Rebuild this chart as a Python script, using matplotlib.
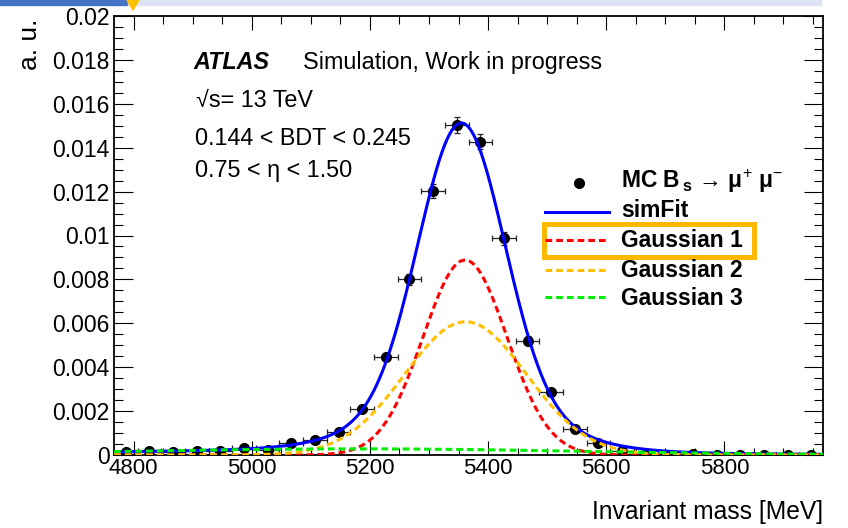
"""
Bs -> mu mu invariant-mass fit, one BDT / eta category.
MC points with the simultaneous-fit curve and its three Gaussian pieces.
"""

import numpy as np
import matplotlib
matplotlib.use("Agg")
import matplotlib.pyplot as plt
import matplotlib.ticker as mticker
from matplotlib.lines import Line2D
from matplotlib.patches import Rectangle, Polygon

# ---------------------------------------------------------------------------
# Data
# ---------------------------------------------------------------------------
M_BS = 5366.9
MASS_LO, MASS_HI = M_BS - 600.0, M_BS + 600.0
BIN_WIDTH = 40.0

# normalised MC yield per 40 MeV bin
mc_yield = [
    0.00015, 0.00020, 0.00015, 0.00020, 0.00018, 0.00030, 0.00023, 0.00053,
    0.00068, 0.00103, 0.00210, 0.00446, 0.00800, 0.01204, 0.01503, 0.01427,
    0.00987, 0.00520, 0.00286, 0.00118, 0.00053, 0.00020, 0.00005, 0.00001,
    0.00006, 0.00002, 0.00002, 0.00002, 0.00002, 0.00002,
]
mc_err = [
    0.00004, 0.00004, 0.00004, 0.00004, 0.00004, 0.00005, 0.00004, 0.00007,
    0.00008, 0.00009, 0.00013, 0.00019, 0.00026, 0.00032, 0.00036, 0.00035,
    0.00029, 0.00021, 0.00016, 0.00010, 0.00007, 0.00004, 0.00002, 0.00001,
    0.00002, 0.00001, 0.00001, 0.00001, 0.00001, 0.00001,
]

# simFit shape: (amplitude, mean, sigma) for each term
simfit_terms = [
    (0.01280, 5355.0, 72.0),
    (0.00210, 5355.0, 135.0),
    (0.00025, 5180.0, 380.0),
]
# fitted components
gauss1 = (0.00888, 5361.0, 71.0)
gauss2 = (0.00607, 5362.0, 103.0)
gauss3 = (0.00028, 5180.0, 380.0)

legend_labels = ["simFit", "Gaussian 1", "Gaussian 2", "Gaussian 3"]
legend_colors = ["#0000ff", "#ff0000", "#ffc000", "#00ee00"]

W, H = 848, 528


def fx(px):
    return px / W


def fy(py):
    return 1 - py / H


def gauss(x, amp, mean, sigma):
    return amp * np.exp(-0.5 * ((x - mean) / sigma) ** 2)


def main():
    plt.rcParams["font.family"] = ["Liberation Sans", "DejaVu Sans"]
    plt.rcParams["mathtext.fontset"] = "custom"
    plt.rcParams["mathtext.rm"] = "Liberation Sans"
    plt.rcParams["mathtext.bf"] = "Liberation Sans:bold"
    plt.rcParams["mathtext.it"] = "Liberation Sans:italic"

    fig = plt.figure(figsize=(W / 100, H / 100), dpi=100)
    ax = fig.add_axes([fx(114), fy(455), fx(823) - fx(114), fy(16) - fy(455)])

    centers = MASS_LO + BIN_WIDTH * (np.arange(len(mc_yield)) + 0.5)
    ax.errorbar(centers, mc_yield, yerr=mc_err, xerr=BIN_WIDTH / 2,
                fmt="o", color="k", ms=7, ecolor="#222222",
                elinewidth=0.9, capsize=2, capthick=0.9, zorder=2)

    x = np.linspace(MASS_LO, MASS_HI, 800)
    fit = sum(gauss(x, *t) for t in simfit_terms)
    ax.plot(x, fit, color=legend_colors[0], lw=2.2, zorder=3)
    dash = (2.2, 1.3)
    for comp, col, z in zip((gauss1, gauss2, gauss3), legend_colors[1:],
                            (4, 5, 6)):
        ax.plot(x, gauss(x, *comp), color=col, lw=2.2, dashes=dash, zorder=z)

    ax.set_xlim(MASS_LO, MASS_HI)
    ax.set_ylim(0, 0.02)
    ax.xaxis.set_major_locator(mticker.MultipleLocator(200))
    ax.xaxis.set_minor_locator(mticker.MultipleLocator(50))
    ax.yaxis.set_major_locator(mticker.MultipleLocator(0.002))
    ax.yaxis.set_minor_locator(mticker.MultipleLocator(0.0005))
    ax.yaxis.set_major_formatter(mticker.FuncFormatter(lambda v, _: f"{v:g}"))
    ax.xaxis.set_major_formatter(mticker.FuncFormatter(lambda v, _: f"{v:.0f}"))

    ax.tick_params(which="both", direction="in", top=True, right=True,
                   width=0.8, color="k")
    ax.tick_params(axis="x", which="major", length=10, labelsize=16, pad=2)
    ax.tick_params(axis="x", which="minor", length=5.4)
    ax.tick_params(axis="y", which="major", length=13.7, labelsize=16.5, pad=3)
    ax.tick_params(axis="y", which="minor", length=6.8)
    for sp in ax.spines.values():
        sp.set_linewidth(1.3)

    ax.set_xlabel("Invariant mass [MeV]", fontsize=17.7, loc="right")
    ax.xaxis.set_label_coords(1.0, -(500 - 455) / 439)
    ax.set_ylabel("a. u.", fontsize=19, loc="top")
    ax.yaxis.set_label_coords((42 - 114) / 709, 0.995)

    # labels
    fs = 16.8
    fig.text(fx(193), fy(69), "ATLAS", fontsize=fs, fontweight="bold",
             style="italic", va="baseline")
    fig.text(fx(303), fy(69), "Simulation, Work in progress", fontsize=fs,
             va="baseline")
    fig.text(fx(196), fy(107), "\u221as= 13 TeV", fontsize=fs,
             va="baseline")
    fig.text(fx(195), fy(145), "0.144 < BDT < 0.245", fontsize=fs,
             va="baseline")
    fig.text(fx(195), fy(177), "0.75 < \u03b7 < 1.50", fontsize=fs,
             va="baseline")

    # legend
    lfs = 16.5
    fig.add_artist(Line2D([fx(579)], [fy(183)], marker="o", ms=7,
                          color="k", transform=fig.transFigure))
    fig.text(fx(621), fy(188),
             "MC B$\\,_\\mathbf{s}$ \u2192 \u03bc$^{+}$ \u03bc$^{-}$",
             fontsize=lfs, fontweight="bold", va="baseline")
    rows = [(212, 217), (240, 247), (270, 277), (297, 305)]
    for i, (ly, ty) in enumerate(rows):
        kw = {} if i == 0 else {"dashes": dash}
        fig.add_artist(Line2D([fx(545), fx(609)], [fy(ly), fy(ly)],
                              color=legend_colors[i], lw=2.2,
                              transform=fig.transFigure, **kw))
        fig.text(fx(621), fy(ty), legend_labels[i], fontsize=lfs,
                 fontweight="bold", va="baseline")

    # highlight box on Gaussian 1
    fig.add_artist(Rectangle((fx(544), fy(257)), fx(754) - fx(544),
                             fy(224) - fy(257), fill=False, lw=3.6,
                             edgecolor="#ffb800", transform=fig.transFigure))

    # slide header strip
    fig.add_artist(Rectangle((0, fy(5)), fx(128), fy(0) - fy(5),
                             color="#4472c4", transform=fig.transFigure))
    fig.add_artist(Rectangle((fx(128), fy(5)), fx(821) - fx(128),
                             fy(0) - fy(5), color="#dde5f4",
                             transform=fig.transFigure))
    fig.add_artist(Polygon([(fx(127), fy(0)), (fx(139), fy(0)),
                            (fx(133), fy(10))], closed=True, color="#ffc000",
                           transform=fig.transFigure))

    fig.savefig("out.png", dpi=100)
    plt.close(fig)


if __name__ == "__main__":
    main()
